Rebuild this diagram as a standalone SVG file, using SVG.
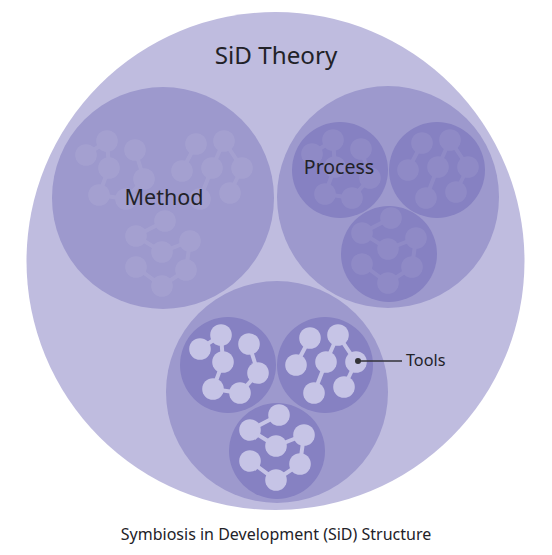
<svg xmlns="http://www.w3.org/2000/svg" xmlns:xlink="http://www.w3.org/1999/xlink" width="552" height="555" viewBox="0 0 552 555">
<style>
  .outer{fill:#bfbcdf}
  .lvl2{fill:#9d99cd}
  .cluster{fill:#8681c2}
  .real{fill:#c6c4e6;stroke:#c6c4e6}
  .ghost{fill:#ffffff;stroke:#ffffff;opacity:0.075}
  .label{font-family:"Noto Sans","Open Sans","Liberation Sans",sans-serif;fill:#222228}
  .leader{stroke:#333338;stroke-width:1.5;fill:none}
</style>
<defs>
  <g id="patA">
    <path fill="none" stroke-width="4" d="M-28,-16L-7,-30L-5,-3L-15,24L12,28L30,8L21,-21"/>
    <g stroke="none">
      <circle cx="-28" cy="-16" r="10.8"/>
      <circle cx="-7" cy="-30" r="10.8"/>
      <circle cx="21" cy="-21" r="10.8"/>
      <circle cx="-5" cy="-3" r="10.8"/>
      <circle cx="30" cy="8" r="10.8"/>
      <circle cx="-15" cy="24" r="10.8"/>
      <circle cx="12" cy="28" r="10.8"/>
    </g>
  </g>
  <g id="patB">
    <path fill="none" stroke-width="4" d="M-15,-27L-29,0M13,-30L1,-3L-11,28M13,-30L31,-3L19,22"/>
    <g stroke="none">
      <circle cx="-15" cy="-27" r="10.8"/>
      <circle cx="13" cy="-30" r="10.8"/>
      <circle cx="-29" cy="0" r="10.8"/>
      <circle cx="1" cy="-3" r="10.8"/>
      <circle cx="31" cy="-3" r="10.8"/>
      <circle cx="-11" cy="28" r="10.8"/>
      <circle cx="19" cy="22" r="10.8"/>
    </g>
  </g>
  <g id="patC">
    <path fill="none" stroke-width="4" d="M2,-36L-27,-21L-1,-5L27,-16L23,13L-1,29L-27,10"/>
    <g stroke="none">
      <circle cx="2" cy="-36" r="10.8"/>
      <circle cx="-27" cy="-21" r="10.8"/>
      <circle cx="-1" cy="-5" r="10.8"/>
      <circle cx="27" cy="-16" r="10.8"/>
      <circle cx="-27" cy="10" r="10.8"/>
      <circle cx="23" cy="13" r="10.8"/>
      <circle cx="-1" cy="29" r="10.8"/>
    </g>
  </g>
</defs>

<g id="sid-theory">
  <circle class="outer" cx="275.5" cy="261" r="249"/>
  <text class="label" x="276" y="64" font-size="24.2" text-anchor="middle">SiD Theory</text>
</g>

<g id="method">
  <circle class="lvl2" cx="163" cy="198" r="111"/>
  <g class="ghost">
    <use xlink:href="#patA" x="114" y="171"/>
    <use xlink:href="#patB" x="211" y="171"/>
    <use xlink:href="#patC" x="163" y="257"/>
  </g>
  <text class="label" x="164" y="205" font-size="21.5" text-anchor="middle">Method</text>
</g>

<g id="process">
  <circle class="lvl2" cx="388" cy="197" r="111"/>
  <circle class="cluster" cx="340" cy="170" r="48"/>
  <circle class="cluster" cx="437" cy="170" r="48"/>
  <circle class="cluster" cx="389" cy="254" r="48"/>
  <g class="ghost">
    <use xlink:href="#patA" x="340" y="170"/>
    <use xlink:href="#patB" x="437" y="170"/>
    <use xlink:href="#patC" x="389" y="254"/>
  </g>
  <text class="label" x="339" y="174" font-size="19.5" text-anchor="middle">Process</text>
</g>

<g id="tools">
  <circle class="lvl2" cx="277" cy="392" r="111"/>
  <circle class="cluster" cx="228" cy="365" r="48"/>
  <circle class="cluster" cx="325" cy="365" r="48"/>
  <circle class="cluster" cx="277" cy="451" r="48"/>
  <g class="real">
    <use xlink:href="#patA" x="228" y="365"/>
    <use xlink:href="#patB" x="325" y="365"/>
    <use xlink:href="#patC" x="277" y="451"/>
  </g>
</g>

<g id="tools-label">
  <text class="label" x="406" y="366" font-size="16.2">Tools</text>
</g>

<g id="connectors">
  <line class="leader" x1="358" y1="361" x2="402" y2="361"/>
  <circle cx="358" cy="361" r="3" fill="#333338"/>
</g>

<g id="caption">
  <text class="label" x="276" y="540" font-size="16" text-anchor="middle" fill="#333">Symbiosis in Development (SiD) Structure</text>
</g>
</svg>
